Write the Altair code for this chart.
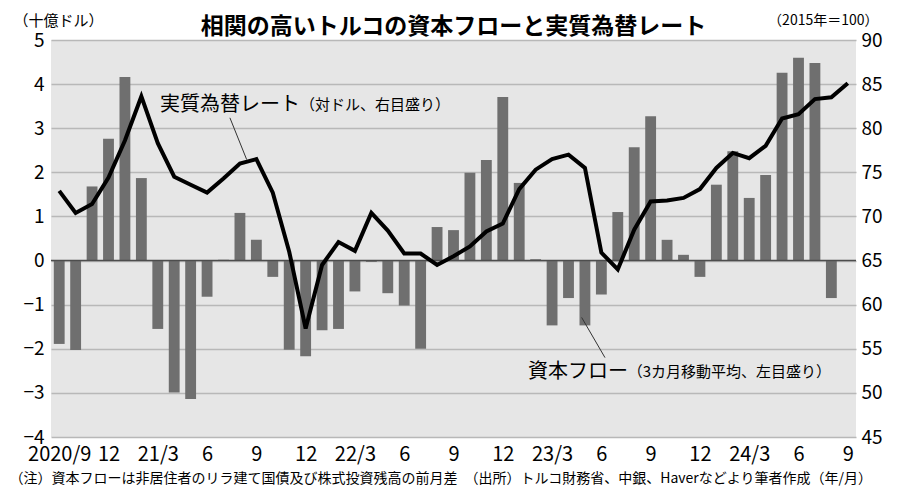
import altair as alt
import pandas as pd

FONT = "Noto Sans CJK JP"

# ---- data -------------------------------------------------------------
months = []
yy, mm = 2020, 9
for _ in range(49):
    months.append(f"{yy}/{mm}")
    mm += 1
    if mm > 12:
        mm = 1
        yy += 1

# capital flow, 3-month moving average (bn USD), 2020/9 .. 2024/8
flow = [-1.89, -2.03, 1.68, 2.76, 4.16, 1.87, -1.55, -2.99, -3.14, -0.82,
        0.02, 1.08, 0.47, -0.37, -2.02, -2.17, -1.58, -1.55, -0.70, -0.03,
        -0.74, -1.02, -2.00, 0.76, 0.69, 1.99, 2.28, 3.71, 1.76, 0.03,
        -1.47, -0.85, -1.47, -0.77, 1.10, 2.57, 3.27, 0.47, 0.13, -0.37,
        1.72, 2.48, 1.42, 1.94, 4.26, 4.60, 4.48, -0.85]

# real effective exchange rate (2015=100), 2020/9 .. 2024/9
reer = [72.9, 70.4, 71.4, 74.4, 78.6, 83.6, 78.3, 74.5, 73.6, 72.7,
        74.3, 76.0, 76.5, 72.7, 66.0, 57.3, 64.5, 67.1, 66.1, 70.4,
        68.4, 65.8, 65.8, 64.5, 65.5, 66.6, 68.3, 69.2, 73.1, 75.3,
        76.5, 77.0, 75.5, 65.9, 64.0, 68.5, 71.7, 71.8, 72.1, 73.1,
        75.5, 77.2, 76.6, 78.0, 81.1, 81.6, 83.3, 83.5, 85.1]

tick_labels = ["2020/9", "12", "21/3", "6", "9", "12", "22/3", "6", "9",
               "12", "23/3", "6", "9", "12", "24/3", "6", "9"]

title_text = "相関の高いトルコの資本フローと実質為替レート"
left_unit = "（十億ドル）"
right_unit = "（2015年＝100）"
note_text = ("（注）資本フローは非居住者のリラ建て国債及び株式投資残高の前月差　"
             "（出所）トルコ財務省、中銀、Haverなどより筆者作成（年/月）")

# annotations (month index, value, text)
ann_rate = pd.DataFrame({"i": [6.13, 14.65], "v": [82.6, 82.6],
                         "t": ["実質為替レート", "（対ドル、右目盛り）"],
                         "s": [20, 15]})
ann_flow = pd.DataFrame({"i": [28.53, 34.6], "v": [-2.52, -2.52],
                         "t": ["資本フロー", "（3カ月移動平均、左目盛り）"],
                         "s": [20, 15]})
lead_rate = pd.DataFrame({"i": [10.39], "v": [81.18], "i2": [11.41], "v2": [76.45]})
lead_flow = pd.DataFrame({"i": [31.80], "v": [-1.29], "i2": [33.22], "v2": [-2.2]})
zero_df = pd.DataFrame({"z": [0]})

bars_df = pd.DataFrame({"i": list(range(len(flow))), "m": months[:len(flow)], "flow": flow})
line_df = pd.DataFrame({"i": list(range(len(reer))), "m": months, "reer": reer})

# ---- scales / axes ----------------------------------------------------
xscale = alt.Scale(domain=[-0.5, 48.5], nice=False, zero=False)
lscale = alt.Scale(domain=[-4, 5], nice=False, zero=False)
rscale = alt.Scale(domain=[45, 90], nice=False, zero=False)

labels_js = "[" + ",".join(f"'{t}'" for t in tick_labels) + "]"
xaxis = alt.Axis(values=list(range(0, 49, 3)),
                 labelExpr=f"{labels_js}[round(datum.value/3)]",
                 grid=False, ticks=False, domain=False, labelFlush=False,
                 labelOverlap=False, labelFontSize=20, labelPadding=7,
                 labelColor="black", labelFont=FONT,
                 title=note_text, titleFont=FONT, titleFontSize=14,
                 titleFontWeight="normal", titleColor="black",
                 titleAlign="left", titleAnchor="start", titleX=-42, titleY=41,
                 titleBaseline="middle")
laxis = alt.Axis(values=list(range(-4, 6)), grid=True, gridColor="#b8b8b8",
                 gridWidth=1.5, ticks=False, domain=False, labelFlush=False,
                 labelFontSize=19, labelPadding=7, labelColor="black",
                 labelFont=FONT, title=left_unit, titleAngle=0,
                 titleAlign="left", titleBaseline="middle", titleX=-38,
                 titleY=-20, titleFont=FONT, titleFontSize=15,
                 titleFontWeight="normal", titleColor="black")
raxis = alt.Axis(values=list(range(45, 91, 5)), orient="right", grid=False,
                 ticks=False, domain=False, labelFlush=False,
                 labelFontSize=19, labelPadding=5, labelColor="black",
                 labelFont=FONT, title=right_unit, titleAngle=0,
                 titleAlign="right", titleBaseline="middle", titleX=22,
                 titleY=-20, titleFont=FONT, titleFontSize=14,
                 titleFontWeight="normal", titleColor="black")

# ---- left-scale group -------------------------------------------------
bars = alt.Chart(bars_df).transform_calculate(
    x1="datum.i - 0.33", x2="datum.i + 0.33"
).mark_bar(color="#6f6f6f").encode(
    x=alt.X("x1:Q", scale=xscale, axis=xaxis),
    x2="x2:Q",
    y=alt.Y("flow:Q", scale=lscale, axis=laxis),
    y2=alt.datum(0),
)
zero = alt.Chart(zero_df).mark_rule(color="#4d4d4d", strokeWidth=1.5).encode(
    y=alt.Y("z:Q", scale=lscale, axis=laxis)
)
flow_txt = alt.Chart(ann_flow).mark_text(
    align="left", baseline="middle", font=FONT, color="black"
).encode(
    x=alt.X("i:Q", scale=xscale, axis=xaxis),
    y=alt.Y("v:Q", scale=lscale, axis=laxis),
    text="t:N",
    size=alt.Size("s:Q", scale=None, legend=None),
)
flow_lead = alt.Chart(lead_flow).mark_rule(color="#333333", strokeWidth=1).encode(
    x=alt.X("i:Q", scale=xscale, axis=xaxis), x2="i2:Q",
    y=alt.Y("v:Q", scale=lscale, axis=laxis), y2="v2:Q",
)
left_group = alt.layer(bars, zero, flow_lead, flow_txt)

# ---- right-scale group ------------------------------------------------
line = alt.Chart(line_df).mark_line(color="black", strokeWidth=4,
                                    strokeJoin="miter").encode(
    x=alt.X("i:Q", scale=xscale, axis=xaxis),
    y=alt.Y("reer:Q", scale=rscale, axis=raxis),
)
rate_txt = alt.Chart(ann_rate).mark_text(
    align="left", baseline="middle", font=FONT, color="black"
).encode(
    x=alt.X("i:Q", scale=xscale, axis=xaxis),
    y=alt.Y("v:Q", scale=rscale, axis=raxis),
    text="t:N",
    size=alt.Size("s:Q", scale=None, legend=None),
)
rate_lead = alt.Chart(lead_rate).mark_rule(color="#333333", strokeWidth=1).encode(
    x=alt.X("i:Q", scale=xscale, axis=xaxis), x2="i2:Q",
    y=alt.Y("v:Q", scale=rscale, axis=raxis), y2="v2:Q",
)
right_group = alt.layer(line, rate_lead, rate_txt)

chart = alt.layer(left_group, right_group).resolve_scale(
    y="independent"
).properties(
    width=805, height=397,
    title=alt.TitleParams(title_text, font=FONT, fontSize=23,
                          fontWeight="bold", color="black", anchor="middle",
                          frame="group", offset=4, dy=30),
    autosize=alt.AutoSizeParams(type="none"),
    padding={"left": 43, "top": 32, "right": 36, "bottom": 50},
    background="white",
).configure_view(fill="#e6e6e6", stroke=None)

chart.save("out.html", embed_options={"renderer": "svg", "actions": False})
